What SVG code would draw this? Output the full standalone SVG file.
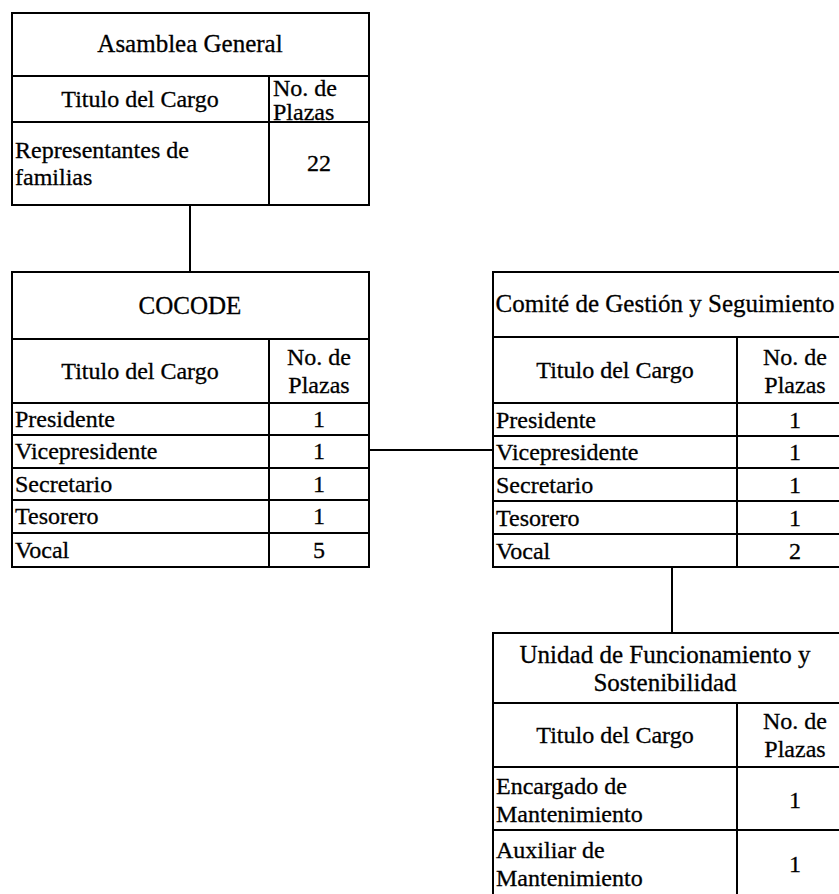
<svg xmlns="http://www.w3.org/2000/svg" width="839" height="894" viewBox="0 0 839 894">
<style>
.box{fill:#fff;stroke:#000;stroke-width:2}
.ln{stroke:#000;stroke-width:2;fill:none}
text{font-family:'Liberation Serif','Tinos','Times New Roman','DejaVu Serif','Noto Serif',serif;fill:#000;stroke:#000;stroke-width:0.3}
.t{font-size:24px}
.h{font-size:25px}
.c{text-anchor:middle}
</style>
<rect width="839" height="894" fill="#fff"/>
<g id="connectors">
<line class="ln" x1="190" y1="205" x2="190" y2="272"/>
<line class="ln" x1="369" y1="450" x2="493" y2="450"/>
<line class="ln" x1="672" y1="567" x2="672" y2="633"/>
</g>
<g id="asamblea" font-family="Liberation Serif, Times New Roman, DejaVu Serif, serif">
<rect class="box" x="12" y="13" width="357" height="192"/>
<line class="ln" x1="12" y1="76" x2="369" y2="76"/>
<line class="ln" x1="12" y1="122" x2="369" y2="122"/>
<line class="ln" x1="269" y1="76" x2="269" y2="205"/>
<text class="h c" x="190" y="52">Asamblea General</text>
<text class="t c" x="140" y="107">Titulo del Cargo</text>
<text class="t" x="273" y="96">No. de</text>
<text class="t" x="273" y="120">Plazas</text>
<text class="t" x="15" y="158">Representantes de</text>
<text class="t" x="15" y="185">familias</text>
<text class="t c" x="319" y="171">22</text>
</g>
<g id="cocode" font-family="Liberation Serif, Times New Roman, DejaVu Serif, serif">
<rect class="box" x="12" y="272" width="357" height="295"/>
<line class="ln" x1="12" y1="339" x2="369" y2="339"/>
<line class="ln" x1="12" y1="403" x2="369" y2="403"/>
<line class="ln" x1="12" y1="435" x2="369" y2="435"/>
<line class="ln" x1="12" y1="468" x2="369" y2="468"/>
<line class="ln" x1="12" y1="500" x2="369" y2="500"/>
<line class="ln" x1="12" y1="533" x2="369" y2="533"/>
<line class="ln" x1="269" y1="339" x2="269" y2="567"/>
<text class="h c" x="190" y="314">COCODE</text>
<text class="t c" x="140" y="379">Titulo del Cargo</text>
<text class="t c" x="319" y="365">No. de</text>
<text class="t c" x="319" y="393">Plazas</text>
<text class="t" x="15" y="427">Presidente</text>
<text class="t" x="15" y="459">Vicepresidente</text>
<text class="t" x="15" y="492">Secretario</text>
<text class="t" x="15" y="524">Tesorero</text>
<text class="t" x="15" y="558">Vocal</text>
<text class="t c" x="319" y="427">1</text>
<text class="t c" x="319" y="459">1</text>
<text class="t c" x="319" y="492">1</text>
<text class="t c" x="319" y="524">1</text>
<text class="t c" x="319" y="558">5</text>
</g>
<g id="comite" font-family="Liberation Serif, Times New Roman, DejaVu Serif, serif">
<rect class="box" x="493" y="272" width="360" height="295"/>
<line class="ln" x1="493" y1="337" x2="853" y2="337"/>
<line class="ln" x1="493" y1="403" x2="853" y2="403"/>
<line class="ln" x1="493" y1="436" x2="853" y2="436"/>
<line class="ln" x1="493" y1="468" x2="853" y2="468"/>
<line class="ln" x1="493" y1="501" x2="853" y2="501"/>
<line class="ln" x1="493" y1="534" x2="853" y2="534"/>
<line class="ln" x1="737" y1="337" x2="737" y2="567"/>
<text class="h c" x="665" y="312">Comité de Gestión y Seguimiento</text>
<text class="t c" x="615" y="378">Titulo del Cargo</text>
<text class="t c" x="795" y="365">No. de</text>
<text class="t c" x="795" y="393">Plazas</text>
<text class="t" x="496" y="428">Presidente</text>
<text class="t" x="496" y="460">Vicepresidente</text>
<text class="t" x="496" y="493">Secretario</text>
<text class="t" x="496" y="526">Tesorero</text>
<text class="t" x="496" y="559">Vocal</text>
<text class="t c" x="795" y="428">1</text>
<text class="t c" x="795" y="460">1</text>
<text class="t c" x="795" y="493">1</text>
<text class="t c" x="795" y="526">1</text>
<text class="t c" x="795" y="559">2</text>
</g>
<g id="unidad" font-family="Liberation Serif, Times New Roman, DejaVu Serif, serif">
<rect class="box" x="493" y="633" width="360" height="280"/>
<line class="ln" x1="493" y1="703" x2="853" y2="703"/>
<line class="ln" x1="493" y1="767" x2="853" y2="767"/>
<line class="ln" x1="493" y1="830" x2="853" y2="830"/>
<line class="ln" x1="737" y1="703" x2="737" y2="913"/>
<text class="h c" x="665" y="663">Unidad de Funcionamiento y</text>
<text class="h c" x="665" y="691">Sostenibilidad</text>
<text class="t c" x="615" y="743">Titulo del Cargo</text>
<text class="t c" x="795" y="729">No. de</text>
<text class="t c" x="795" y="757">Plazas</text>
<text class="t" x="496" y="794">Encargado de</text>
<text class="t" x="496" y="822">Mantenimiento</text>
<text class="t c" x="795" y="808">1</text>
<text class="t" x="496" y="858">Auxiliar de</text>
<text class="t" x="496" y="886">Mantenimiento</text>
<text class="t c" x="795" y="872">1</text>
</g>
</svg>
